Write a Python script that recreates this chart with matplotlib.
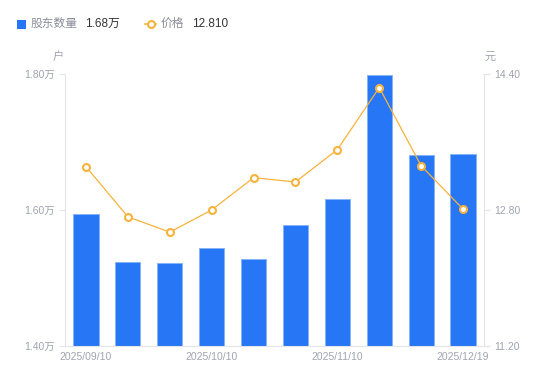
import matplotlib
matplotlib.use("Agg")
import matplotlib.pyplot as plt
from matplotlib.lines import Line2D

plt.rcParams['font.family'] = ['Liberation Sans', 'Noto Sans CJK SC', 'DejaVu Sans']

dates = ["2025/09/10", "2025/09/19", "2025/09/30", "2025/10/10", "2025/10/20",
         "2025/10/31", "2025/11/10", "2025/11/20", "2025/11/28", "2025/12/19"]
holders = [1.594, 1.5235, 1.522, 1.544, 1.528, 1.5775, 1.616, 1.798, 1.681, 1.682]  # 万户
price = [13.31, 12.72, 12.54, 12.80, 13.18, 13.13, 13.51, 14.24, 13.32, 12.81]
shown_ticks = ["2025/09/10", "2025/10/10", "2025/11/10", "2025/12/19"]
left_ticks = [1.40, 1.60, 1.80]
right_ticks = [11.20, 12.80, 14.40]

BLUE = "#2776F5"
ORANGE = "#F7B33D"
GRAY = "#A0A3B1"
AXIS = "#E3E4E8"

W, H = 550, 381
fig = plt.figure(figsize=(W / 100, H / 100), dpi=100)
ax = fig.add_axes([65 / W, 35 / H, (484 - 65) / W, (346 - 74) / H])
ax2 = ax.twinx()

x = list(range(len(dates)))
ax.bar(x, holders, width=0.6, color=BLUE, edgecolor="#86B3F7", linewidth=0.7, zorder=2)
ax.set_ylim(1.40, 1.80)
ax.set_xlim(-0.5, len(dates) - 0.5)
ax.set_yticks(left_ticks)
ax.set_yticklabels([f"{v:.2f}万" for v in left_ticks])

ax2.plot(x, price, color=ORANGE, lw=0.9, marker="o", ms=5, mfc="white",
         mec=ORANGE, mew=1.5, zorder=3)
ax2.set_ylim(11.20, 14.40)
ax2.set_yticks(right_ticks)
ax2.set_yticklabels([f"{v:.2f}" for v in right_ticks])

tick_pos = [dates.index(d) for d in shown_ticks]
ax.set_xticks(tick_pos)
ax.set_xticklabels(shown_ticks)

for a in (ax, ax2):
    for s in a.spines.values():
        s.set_visible(False)
    a.tick_params(colors=GRAY, labelsize=7.5, length=4, width=0.8)
    a.tick_params(axis='y', color=AXIS, pad=3)
ax.spines['left'].set_visible(True)
ax.spines['left'].set_color(AXIS)
ax.spines['bottom'].set_visible(True)
ax.spines['bottom'].set_color(AXIS)
ax2.spines['right'].set_visible(True)
ax2.spines['right'].set_color(AXIS)
ax.tick_params(axis='x', length=0, pad=4)

ax.set_zorder(1)
ax2.set_zorder(2)
ax.patch.set_visible(False)

# axis unit labels
fig.text(58 / W, 1 - 57 / H, "户", color=GRAY, fontsize=8, ha="center", va="center")
fig.text(490 / W, 1 - 57 / H, "元", color=GRAY, fontsize=8, ha="center", va="center")

# legend header
ly = 1 - 24 / H
fig.patches.append(plt.Rectangle((17 / W, 1 - 29 / H), 9 / W, 9 / H, transform=fig.transFigure,
                                 facecolor=BLUE, edgecolor="none", figure=fig))
fig.text(31 / W, ly, "股东数量", color="#8A8D99", fontsize=8.5, va="center")
fig.text(85 / W, ly, f"{holders[-1]:.2f}万", color="#333333", fontsize=8.5, va="center")
fig.add_artist(Line2D([145 / W, 156 / W], [ly, ly], transform=fig.transFigure,
                      color=ORANGE, lw=1.2))
fig.add_artist(Line2D([150.5 / W], [ly], transform=fig.transFigure, marker="o", ms=5,
                      mfc="white", mec=ORANGE, mew=1.5, color=ORANGE))
fig.text(161 / W, ly, "价格", color="#8A8D99", fontsize=8.5, va="center")
fig.text(192 / W, ly, f"{price[-1]:.3f}", color="#333333", fontsize=8.5, va="center")

fig.savefig("out.png", dpi=100)
